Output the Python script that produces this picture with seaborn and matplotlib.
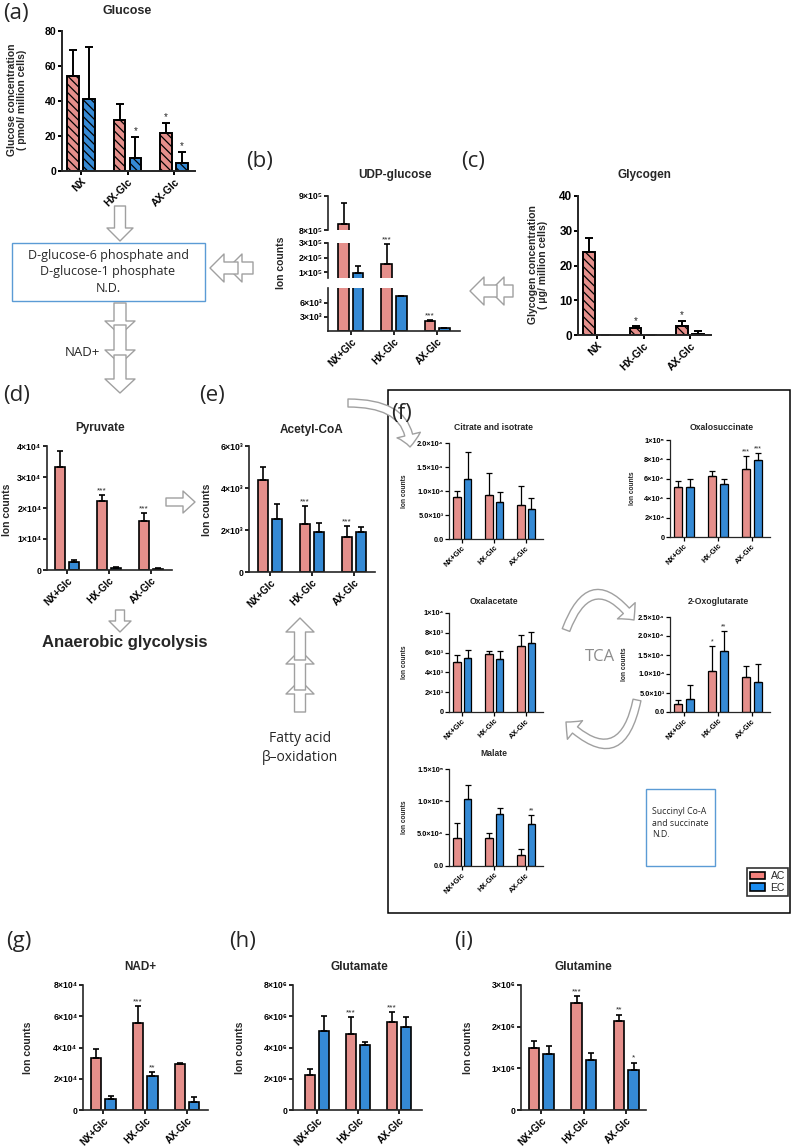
import matplotlib
matplotlib.use("Agg")
import matplotlib.pyplot as plt
import numpy as np
import pandas as pd
import seaborn as sns
from matplotlib.patches import FancyArrowPatch, Patch, Rectangle

W, H = 799, 1146
RED = "#F4817C"
BLUE = "#1A8CF0"
GREY = "#A0A0A0"
BOXBLUE = "#5B9BD5"

CATS = ["NX+Glc", "HX-Glc", "AX-Glc"]
CATS_A = ["NX", "HX-Glc", "AX-Glc"]

# (a) glucose, pmol / million cells
glucose_ac = [54.5, 29.1, 21.5]
glucose_ac_sd = [14.6, 9.0, 6.1]
glucose_ec = [41.1, 7.6, 4.8]
glucose_ec_sd = [30.0, 12.0, 6.3]
glucose_stars = [["", "", "*"], ["", "*", "*"]]

# (b) UDP-glucose, ion counts (broken axis)
udp_ac = [8.18e5, 1.55e5, 2.1e3]
udp_ac_sd = [0.62e5, 1.35e5, 0.15e3]
udp_ec = [0.95e5, 7.5e3, 0.6e3]
udp_ec_sd = [0.45e5, 0.0, 0.1e3]

# (c) glycogen, ug / million cells
glycogen_ac = [24.0, 2.0, 2.5]
glycogen_ac_sd = [4.0, 0.5, 1.5]
glycogen_ec = [0.0, 0.0, 0.2]
glycogen_ec_sd = [0.0, 0.0, 0.9]
glycogen_stars = [["", "*", "*"], ["", "", ""]]

# (d) pyruvate
pyruvate_ac = [3.31e4, 2.24e4, 1.58e4]
pyruvate_ac_sd = [0.53e4, 0.18e4, 0.25e4]
pyruvate_ec = [0.27e4, 0.08e4, 0.04e4]
pyruvate_ec_sd = [0.05e4, 0.02e4, 0.01e4]
pyruvate_stars = [["", "***", "***"], ["", "", ""]]

# (e) acetyl-CoA
acetyl_ac = [4.37e3, 2.29e3, 1.65e3]
acetyl_ac_sd = [0.62e3, 0.85e3, 0.55e3]
acetyl_ec = [2.53e3, 1.9e3, 1.9e3]
acetyl_ec_sd = [0.72e3, 0.45e3, 0.22e3]
acetyl_stars = [["", "***", "***"], ["", "", ""]]

# (f) TCA intermediates
citrate_ac = [8.7e3, 9.2e3, 7.0e3]
citrate_ac_sd = [1.2e3, 4.55e3, 4.1e3]
citrate_ec = [12.5e3, 7.8e3, 6.25e3]
citrate_ec_sd = [5.6e3, 2.0e3, 2.25e3]

oxalosucc_ac = [5.2e4, 6.3e4, 7.05e4]
oxalosucc_ac_sd = [0.6e4, 0.55e4, 1.3e4]
oxalosucc_ec = [5.2e4, 5.45e4, 7.9e4]
oxalosucc_ec_sd = [0.75e4, 0.5e4, 0.8e4]
oxalosucc_stars = [["", "", "***"], ["", "", "***"]]

oxalacetate_ac = [5.04e3, 5.9e3, 6.62e3]
oxalacetate_ac_sd = [0.76e3, 0.27e3, 1.18e3]
oxalacetate_ec = [5.42e3, 5.39e3, 6.93e3]
oxalacetate_ec_sd = [0.88e3, 0.75e3, 1.13e3]

oxoglut_ac = [2.2e3, 10.9e3, 9.1e3]
oxoglut_ac_sd = [1.05e3, 6.5e3, 3.1e3]
oxoglut_ec = [3.3e3, 16.0e3, 8.0e3]
oxoglut_ec_sd = [3.8e3, 5.2e3, 4.7e3]
oxoglut_stars = [["", "*", ""], ["", "**", ""]]

malate_ac = [4.36e4, 4.36e4, 1.7e4]
malate_ac_sd = [2.3e4, 0.75e4, 1.0e4]
malate_ec = [10.3e4, 8.05e4, 6.46e4]
malate_ec_sd = [2.2e4, 0.85e4, 1.44e4]
malate_stars = [["", "", ""], ["", "", "**"]]

# (g)-(i)
nad_ac = [3.3e4, 5.6e4, 2.92e4]
nad_ac_sd = [0.58e4, 1.05e4, 0.08e4]
nad_ec = [0.7e4, 2.17e4, 0.53e4]
nad_ec_sd = [0.22e4, 0.26e4, 0.32e4]
nad_stars = [["", "***", ""], ["", "**", ""]]

glutamate_ac = [2.24e6, 4.86e6, 5.65e6]
glutamate_ac_sd = [0.36e6, 1.07e6, 0.6e6]
glutamate_ec = [5.05e6, 4.14e6, 5.31e6]
glutamate_ec_sd = [0.95e6, 0.19e6, 0.64e6]
glutamate_stars = [["", "***", "***"], ["", "", ""]]

glutamine_ac = [1.48e6, 2.57e6, 2.13e6]
glutamine_ac_sd = [0.18e6, 0.17e6, 0.16e6]
glutamine_ec = [1.34e6, 1.2e6, 0.96e6]
glutamine_ec_sd = [0.2e6, 0.16e6, 0.18e6]
glutamine_stars = [["", "***", "**"], ["", "", "*"]]

# tick values and labels
glucose_ticks = [0, 20, 40, 60, 80]
glucose_labels = ["0", "20", "40", "60", "80"]
udp_top_ticks = [8e5, 9e5]
udp_top_labels = ["8×10⁵", "9×10⁵"]
udp_mid_ticks = [1e5, 2e5, 3e5]
udp_mid_labels = ["1×10⁵", "2×10⁵", "3×10⁵"]
udp_low_ticks = [3e3, 6e3]
udp_low_labels = ["3×10³", "6×10³"]
glycogen_ticks = [0, 10, 20, 30, 40]
glycogen_labels = ["0", "10", "20", "30", "40"]
pyruvate_ticks = [0, 1e4, 2e4, 3e4, 4e4]
pyruvate_labels = ["0", "1×10⁴", "2×10⁴", "3×10⁴", "4×10⁴"]
acetyl_ticks = [0, 2e3, 4e3, 6e3]
acetyl_labels = ["0", "2×10³", "4×10³", "6×10³"]
citrate_ticks = [0, 5e3, 1e4, 1.5e4, 2e4]
citrate_labels = ["0.0", "5.0×10³", "1.0×10⁴", "1.5×10⁴", "2.0×10⁴"]
oxalosucc_ticks = [0, 2e4, 4e4, 6e4, 8e4, 1e5]
oxalosucc_labels = ["0", "2×10⁴", "4×10⁴", "6×10⁴", "8×10⁴", "1×10⁵"]
oxalacetate_ticks = [0, 2e3, 4e3, 6e3, 8e3, 1e4]
oxalacetate_labels = ["0", "2×10³", "4×10³", "6×10³", "8×10³", "1×10⁴"]
oxoglut_ticks = [0, 5e3, 1e4, 1.5e4, 2e4, 2.5e4]
oxoglut_labels = ["0.0", "5.0×10³", "1.0×10⁴", "1.5×10⁴", "2.0×10⁴", "2.5×10⁴"]
malate_ticks = [0, 5e4, 1e5, 1.5e5]
malate_labels = ["0.0", "5.0×10⁴", "1.0×10⁵", "1.5×10⁵"]
nad_ticks = [0, 2e4, 4e4, 6e4, 8e4]
nad_labels = ["0", "2×10⁴", "4×10⁴", "6×10⁴", "8×10⁴"]
glutamate_ticks = [0, 2e6, 4e6, 6e6, 8e6]
glutamate_labels = ["0", "2×10⁶", "4×10⁶", "6×10⁶", "8×10⁶"]
glutamine_ticks = [0, 1e6, 2e6, 3e6]
glutamine_labels = ["0", "1×10⁶", "2×10⁶", "3×10⁶"]

SIZES = {
    "a": dict(tick=7.5, xtick=7.5, lw=1.4, cap=3, star=7),
    "c": dict(tick=8.5, xtick=7.5, lw=1.4, cap=3, star=7),
    "m": dict(tick=6.3, xtick=7, lw=1.2, cap=2.5, star=6),
    "s": dict(tick=5.3, xtick=5.3, lw=0.9, cap=2, star=5),
}
GAP = 0.28

sns.set_theme(style="ticks")
FONT = ["Liberation Sans", "DejaVu Sans"]
plt.rcParams["font.family"] = FONT
plt.rcParams["hatch.linewidth"] = 0.9
CAL = ["Open Sans", "DejaVu Sans"]

fig = plt.figure(figsize=(W / 100, H / 100), dpi=100)
ov = fig.add_axes([0, 0, 1, 1])
ov.set_xlim(0, W)
ov.set_ylim(H, 0)
ov.axis("off")


def ax_at(x0, y0, x1, y1):
    ax = fig.add_axes([x0 / W, 1 - y1 / H, (x1 - x0) / W, (y1 - y0) / H])
    ax.set_facecolor("none")
    return ax


def draw_bars(ax, cats, ac, ac_sd, ec, ec_sd, stars, sz, hatch=None):
    s = SIZES[sz]
    df = pd.DataFrame({
        "group": cats * 2,
        "cell": ["AC"] * len(cats) + ["EC"] * len(cats),
        "value": list(ac) + list(ec),
    })
    sns.barplot(data=df, x="group", y="value", hue="cell", hue_order=["AC", "EC"],
                palette=[RED, BLUE], errorbar=None, width=0.68,
                edgecolor="black", linewidth=s["lw"], legend=False, ax=ax)
    for cont, sd, st in zip(ax.containers, [ac_sd, ec_sd], stars):
        for p in cont:
            w = p.get_width()
            p.set_x(p.get_x() + w * GAP / 2)
            p.set_width(w * (1 - GAP))
            if hatch:
                p.set_hatch(hatch)
        xs = [p.get_x() + p.get_width() / 2 for p in cont]
        hs = [p.get_height() for p in cont]
        ax.errorbar(xs, hs, yerr=[np.zeros(len(hs)), sd], fmt="none", ecolor="black",
                    elinewidth=s["lw"], capsize=s["cap"], capthick=s["lw"])
        for x, h, e, t in zip(xs, hs, sd, st):
            if t:
                ax.annotate(t, (x, h + e), xytext=(0, 0.5), textcoords="offset points",
                            ha="center", va="bottom", fontsize=s["star"])


def style(ax, cats, xlim, ylim, ticks, labels, sz, show_x=True):
    s = SIZES[sz]
    ax.set_xlim(*xlim)
    ax.set_ylim(*ylim)
    ax.set_yticks(ticks)
    ax.set_yticklabels(labels, fontsize=s["tick"], fontweight="bold")
    ax.set_xlabel("")
    ax.set_ylabel("")
    ax.grid(False)
    sns.despine(ax=ax)
    ax.spines["left"].set_linewidth(s["lw"])
    ax.spines["bottom"].set_linewidth(s["lw"])
    ax.tick_params(width=s["lw"], length=3, pad=1, colors="black")
    if show_x:
        ax.set_xticks(range(len(cats)))
        ax.set_xticklabels(cats, rotation=45, ha="right", rotation_mode="anchor",
                           fontsize=s["xtick"], fontweight="bold")
    else:
        ax.spines["bottom"].set_visible(False)
        ax.tick_params(axis="x", bottom=False, labelbottom=False)


def panel(rect, cats, ac, ac_sd, ec, ec_sd, stars, xlim, ylim, ticks, labels, sz, hatch=None):
    ax = ax_at(*rect)
    draw_bars(ax, cats, ac, ac_sd, ec, ec_sd, stars, sz, hatch)
    style(ax, cats, xlim, ylim, ticks, labels, sz)
    return ax


def hollow_arrow(p0, p1, head_w=24, tail_w=11, head_l=12, conn="arc3,rad=0"):
    k = 0.72 / 10
    a = FancyArrowPatch(p0, p1, connectionstyle=conn, mutation_scale=10,
                        arrowstyle=f"simple,head_length={head_l * k},head_width={head_w * k},"
                                   f"tail_width={tail_w * k}",
                        fc="white", ec=GREY, lw=1.0, shrinkA=0, shrinkB=0)
    ov.add_patch(a)


def label(x, y, text, **kw):
    ov.text(x, y, text, **kw)


# ---------------- (a) glucose
NO = [["", "", ""], ["", "", ""]]
panel((62, 31, 195, 171), CATS_A, glucose_ac, glucose_ac_sd, glucose_ec, glucose_ec_sd,
      glucose_stars, (-0.41, 2.45), (0, 80), glucose_ticks, glucose_labels, "a", hatch="\\\\\\\\")

# ---------------- (b) UDP-glucose, broken y axis
BX = (-0.53, 2.53)
ax_top = ax_at(328, 196, 460, 230)
draw_bars(ax_top, CATS, udp_ac, udp_ac_sd, udp_ec, udp_ec_sd, NO, "m")
style(ax_top, CATS, BX, (8e5, 9e5), udp_top_ticks, udp_top_labels, "m", show_x=False)
ax_mid = ax_at(328, 243, 460, 278)
draw_bars(ax_mid, CATS, udp_ac, udp_ac_sd, udp_ec, udp_ec_sd, [["", "***", ""], ["", "", ""]], "m")
style(ax_mid, CATS, BX, (0.6e5, 3e5), udp_mid_ticks, udp_mid_labels, "m", show_x=False)
ax_low = ax_at(328, 288, 460, 331)
draw_bars(ax_low, CATS, udp_ac, udp_ac_sd, udp_ec, udp_ec_sd, [["", "", "***"], ["", "", ""]], "m")
style(ax_low, CATS, BX, (0, 9.2e3), udp_low_ticks, udp_low_labels, "m")

# ---------------- (c) glycogen
panel((578, 196, 711, 335), CATS_A, glycogen_ac, glycogen_ac_sd, glycogen_ec, glycogen_ec_sd,
      glycogen_stars, (-0.41, 2.45), (0, 40), glycogen_ticks, glycogen_labels, "c",
      hatch="\\\\\\\\")

# ---------------- (d) pyruvate, (e) acetyl-CoA
panel((47, 446, 172, 570), CATS, pyruvate_ac, pyruvate_ac_sd, pyruvate_ec, pyruvate_ec_sd,
      pyruvate_stars, (-0.48, 2.5), (0, 4e4), pyruvate_ticks, pyruvate_labels, "m")
panel((249, 446, 375, 572), CATS, acetyl_ac, acetyl_ac_sd, acetyl_ec, acetyl_ec_sd,
      acetyl_stars, (-0.5, 2.5), (0, 6e3), acetyl_ticks, acetyl_labels, "m")

# ---------------- (f) TCA panels
FX = (-0.41, 2.53)
panel((449, 443, 543, 539), CATS, citrate_ac, citrate_ac_sd, citrate_ec, citrate_ec_sd,
      NO, FX, (0, 2e4), citrate_ticks, citrate_labels, "s")
panel((670, 440, 770, 537), CATS, oxalosucc_ac, oxalosucc_ac_sd, oxalosucc_ec, oxalosucc_ec_sd,
      oxalosucc_stars, FX, (0, 1e5), oxalosucc_ticks, oxalosucc_labels, "s")
panel((449, 613, 543, 712), CATS, oxalacetate_ac, oxalacetate_ac_sd, oxalacetate_ec,
      oxalacetate_ec_sd, NO, FX, (0, 1e4), oxalacetate_ticks, oxalacetate_labels, "s")
panel((670, 617, 770, 712), CATS, oxoglut_ac, oxoglut_ac_sd, oxoglut_ec, oxoglut_ec_sd,
      oxoglut_stars, FX, (0, 2.5e4), oxoglut_ticks, oxoglut_labels, "s")
panel((449, 769, 543, 866), CATS, malate_ac, malate_ac_sd, malate_ec, malate_ec_sd,
      malate_stars, FX, (0, 1.5e5), malate_ticks, malate_labels, "s")

# ---------------- (g)-(i)
panel((83, 985, 208, 1110), CATS, nad_ac, nad_ac_sd, nad_ec, nad_ec_sd,
      nad_stars, (-0.49, 2.5), (0, 8e4), nad_ticks, nad_labels, "m")
panel((293, 985, 422, 1110), CATS, glutamate_ac, glutamate_ac_sd, glutamate_ec, glutamate_ec_sd,
      glutamate_stars, (-0.59, 2.56), (0, 8e6), glutamate_ticks, glutamate_labels, "m")
panel((521, 985, 646, 1110), CATS, glutamine_ac, glutamine_ac_sd, glutamine_ec, glutamine_ec_sd,
      glutamine_stars, (-0.48, 2.46), (0, 3e6), glutamine_ticks, glutamine_labels, "m")

# ---------------- panel letters
PL = dict(fontsize=16, family=CAL, va="center", ha="left")
for x, y, t in [(3, 14, "(a)"), (246, 161, "(b)"), (461, 161, "(c)"), (3, 395, "(d)"),
                (199, 395, "(e)"), (391, 414, "(f)"), (6, 941, "(g)"), (229, 941, "(h)"),
                (454, 941, "(i)")]:
    label(x, y, t, **PL)

# ---------------- titles
TB = dict(fontweight="bold", ha="center", va="center")
label(127, 11, "Glucose", fontsize=9, **TB)
label(395, 175, "UDP-glucose", fontsize=8.5, **TB)
label(644, 175, "Glycogen", fontsize=8.5, **TB)
label(100, 428, "Pyruvate", fontsize=8.5, **TB)
label(312, 430, "Acetyl-CoA", fontsize=8.5, **TB)
label(494, 428, "Citrate and isotrate", fontsize=6.2, **TB)
label(722, 428, "Oxalosuccinate", fontsize=6.2, **TB)
label(494, 602, "Oxalacetate", fontsize=6.2, **TB)
label(718, 601, "2-Oxoglutarate", fontsize=6.2, **TB)
label(494, 754, "Malate", fontsize=6.2, **TB)
label(140, 967, "NAD+", fontsize=8.5, **TB)
label(359, 967, "Glutamate", fontsize=8.5, **TB)
label(583, 967, "Glutamine", fontsize=8.5, **TB)

# ---------------- y labels
YB = dict(fontweight="bold", rotation=90, ha="center", va="center")
label(17, 100, "Glucose concentration\n( pmol/ million cells)", fontsize=7.5, linespacing=1.1, **YB)
label(538, 265, "Glycogen concentration\n( μg/ million cells)", fontsize=7.5, linespacing=1.1, **YB)
for x, y in [(281, 263), (7, 510), (207, 510), (28, 1048), (240, 1048), (468, 1048)]:
    label(x, y, "Ion counts", fontsize=7.5, **YB)
for x, y in [(405, 491), (632, 488), (405, 662), (624, 664), (404, 817)]:
    label(x, y, "Ion counts", fontsize=4.8, **YB)

# ---------------- boxes and annotations
ov.add_patch(Rectangle((12, 243), 193, 58, fill=False, ec=BOXBLUE, lw=1.0))
ov.add_patch(Rectangle((646, 789), 69, 77, fill=False, ec=BOXBLUE, lw=1.0))
ov.add_patch(Rectangle((388, 390), 402, 523, fill=False, ec="black", lw=1.1))
label(108, 272, "D-glucose-6 phosphate and\nD-glucose-1 phosphate\nN.D.", fontsize=9,
      ha="center", va="center", linespacing=1.3, family=CAL)
label(652, 823, "Succinyl Co-A\nand succinate\nN.D.", fontsize=6.3, ha="left", va="center",
      linespacing=1.3, family=CAL)
label(82, 353, "NAD+", fontsize=9.5, ha="center", va="center", family=CAL)
label(125, 643, "Anaerobic glycolysis", fontsize=12, fontweight="bold", ha="center", va="center")
label(300, 748, "Fatty acid\nβ–oxidation", fontsize=10, ha="center", va="center",
      linespacing=1.4, family=CAL)
label(600, 657, "TCA", fontsize=12, color="#8C8C8C", ha="center", va="center", family=CAL)

# hollow arrows
hollow_arrow((120, 206), (120, 241), head_w=26, tail_w=11, head_l=13)
hollow_arrow((253, 268), (228, 268), head_w=28, tail_w=12, head_l=14)
hollow_arrow((238, 268), (210, 268), head_w=28, tail_w=12, head_l=14)
hollow_arrow((513, 291), (490, 291), head_w=28, tail_w=12, head_l=14)
hollow_arrow((497, 291), (470, 291), head_w=28, tail_w=12, head_l=14)
for y0, y1 in [(303, 335), (325, 364), (355, 393)]:
    hollow_arrow((120, y0), (120, y1), head_w=30, tail_w=12, head_l=14)
hollow_arrow((166, 502), (195, 502), head_w=22, tail_w=8, head_l=12)
hollow_arrow((120, 610), (120, 632), head_w=22, tail_w=9, head_l=11)
for y0, y1 in [(712, 680), (690, 650), (660, 618)]:
    hollow_arrow((300, y0), (300, y1), head_w=28, tail_w=11, head_l=14)
hollow_arrow((348, 403), (410, 447), head_w=24, tail_w=8, head_l=12,
             conn="angle3,angleA=0,angleB=90")
hollow_arrow((566, 630), (634, 620), head_w=24, tail_w=8, head_l=12, conn="arc3,rad=-0.9")
hollow_arrow((637, 700), (566, 722), head_w=24, tail_w=8, head_l=12, conn="arc3,rad=-0.9")

# legend
leg = fig.legend(handles=[Patch(fc=RED, ec="black", lw=1.2, label="AC"),
                          Patch(fc=BLUE, ec="black", lw=1.2, label="EC")],
                 loc="upper right", bbox_to_anchor=(788 / W, 1 - 868 / H), frameon=True,
                 fancybox=False, edgecolor="black", fontsize=7.5, handlelength=1.5,
                 handleheight=0.8, borderpad=0.3, labelspacing=0.15, handletextpad=0.5,
                 borderaxespad=0)
leg.get_frame().set_linewidth(1.2)

fig.savefig("out.png", dpi=100)
